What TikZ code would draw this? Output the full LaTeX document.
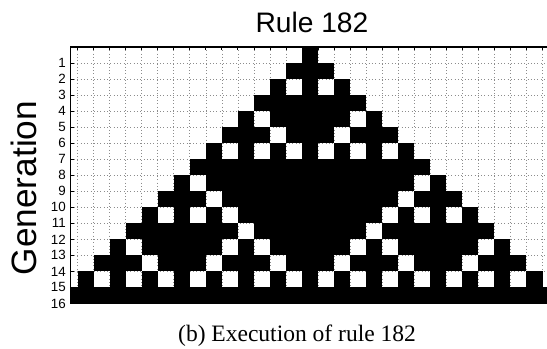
\documentclass[tikz,border=0pt]{standalone}
\usepackage{fontspec}
\setmainfont{Liberation Serif}
\setsansfont{Liberation Sans}
\newcommand{\XMIN}{-14.93}
\newcommand{\XMAX}{14.78}

\begin{document}
\begin{tikzpicture}[
    x=0.4cm, y=0.4cm,
    % Define Styles for Consistency
    gridline/.style={
        black!45, line width=0.45pt, dash pattern=on 0.45pt off 1.9pt
    },
    axisline/.style={
        black, line width=0.9pt
    },
    tickmark/.style={
        black, line width=0.6pt
    },
    cell/.style={
        fill=black
    },
    ticklabel/.style={
        font=\fontsize{9.5}{10}\sffamily, anchor=east, inner sep=1pt
    },
    titletext/.style={
        font=\fontsize{20}{24}\sffamily
    },
    ylabeltext/.style={
        font=\fontsize{25}{30}\sffamily, rotate=90
    }
]
    \useasboundingbox (-19.34,-18.78) rectangle (14.78,2.93);
    \clip (-19.34,-18.78) rectangle (14.78,2.93);

    % --- 1. Dotted Grid ---
    \foreach \x in {-14.5,-13.5,...,14.5}
        \draw[gridline] (\x,0) -- (\x,-16);
    \foreach \y in {1,...,15}
        \draw[gridline] (\XMIN,-\y) -- (\XMAX,-\y);

    % --- 2. Generations of Rule 182 (black runs) ---
    \begin{scope}
        \clip (\XMIN,0) rectangle (\XMAX,-16);
        \foreach \g/\a/\b in {
            1/0/0,
            2/-1/1,
            3/-2/-2, 3/0/0, 3/2/2,
            4/-3/3,
            5/-4/-4, 5/-2/2, 5/4/4,
            6/-5/-3, 6/-1/1, 6/3/5,
            7/-6/-6, 7/-4/-4, 7/-2/-2, 7/0/0, 7/2/2, 7/4/4, 7/6/6,
            8/-7/7,
            9/-8/-8, 9/-6/6, 9/8/8,
            10/-9/-7, 10/-5/5, 10/7/9,
            11/-10/-10, 11/-8/-8, 11/-6/-6, 11/-4/4, 11/6/6, 11/8/8, 11/10/10,
            12/-11/-5, 12/-3/3, 12/5/11,
            13/-12/-12, 13/-10/-6, 13/-4/-4, 13/-2/2, 13/4/4, 13/6/10, 13/12/12,
            14/-13/-11, 14/-9/-7, 14/-5/-3, 14/-1/1, 14/3/5, 14/7/9, 14/11/13,
            16/-15/15}
            \fill[cell] (\a-0.5,1-\g) rectangle (\b+0.5,-\g);
        % generation 15 alternates
        \foreach \p in {-14,-12,...,14}
            \fill[cell] (\p-0.5,-14) rectangle (\p+0.5,-15);
    \end{scope}

    % --- 3. Axes and Ticks ---
    \draw[axisline] (\XMAX,0) -- (\XMIN,0) -- (\XMIN,-16) -- (\XMAX,-16);
    \foreach \x in {-14.5,-13.5,...,14.5}
        \draw[tickmark] (\x,0) -- (\x,-0.2);
    \foreach \y in {1,...,16} {
        \draw[tickmark] (\XMIN,-\y) -- (\XMIN+0.2,-\y);
        \node[ticklabel] (tick\y) at (\XMIN-0.2,-\y) {\y};
    }

    % --- 4. Labels ---
    \node[titletext] (title) at (0.12,1.56) {Rule 182};
    \node[ylabeltext] (ylabel) at (-17.84,-8.8) {Generation};
    \node[font=\fontsize{16.7}{20}\selectfont] (caption) at (-0.81,-18.03) {(b) Execution of rule 182};

\end{tikzpicture}
\end{document}
